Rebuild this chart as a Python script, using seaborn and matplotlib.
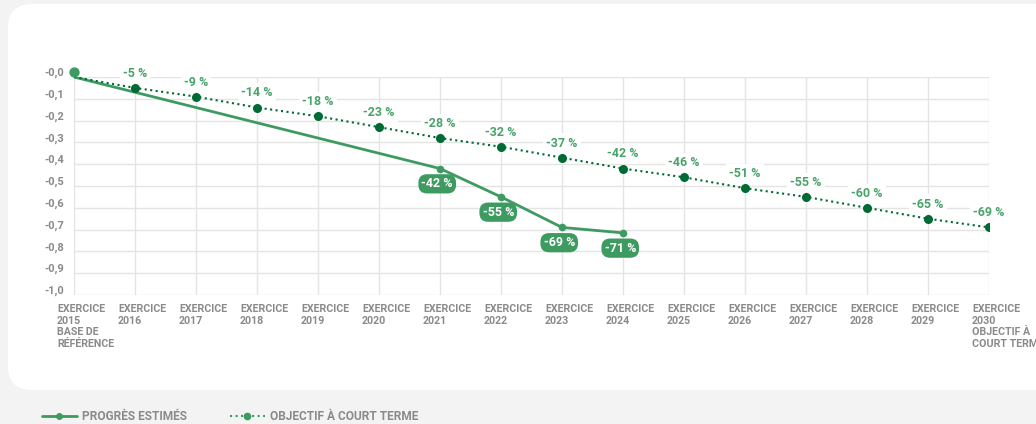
import numpy as np
import pandas as pd
import matplotlib
matplotlib.use("Agg")
import matplotlib.pyplot as plt
import matplotlib.transforms as mtransforms
from matplotlib.patches import FancyBboxPatch
from matplotlib.lines import Line2D
import seaborn as sns

# data
years = list(range(2015, 2031))
target_values = [0.0, -0.05, -0.09, -0.14, -0.18, -0.23, -0.28, -0.32, -0.37,
                 -0.42, -0.46, -0.51, -0.55, -0.60, -0.65, -0.69]
target_labels = ["-5 %", "-9 %", "-14 %", "-18 %", "-23 %", "-28 %", "-32 %", "-37 %",
                 "-42 %", "-46 %", "-51 %", "-55 %", "-60 %", "-65 %", "-69 %"]
progress_years = [2015, 2021, 2022, 2023, 2024]
progress_values = [0.0, -0.42, -0.55, -0.69, -0.715]
progress_labels = ["-42 %", "-55 %", "-69 %", "-71 %"]
y_ticks = [0.0, -0.1, -0.2, -0.3, -0.4, -0.5, -0.6, -0.7, -0.8, -0.9, -1.0]
y_tick_labels = ["-0,0", "-0,1", "-0,2", "-0,3", "-0,4", "-0,5", "-0,6", "-0,7",
                 "-0,8", "-0,9", "-1,0"]
x_tick_labels = ["EXERCICE\n2015\nBASE DE\nRÉFÉRENCE"] + \
    [f"EXERCICE\n{y}" for y in range(2016, 2030)] + \
    ["EXERCICE\n2030\nOBJECTIF À\nCOURT TERME"]

GREEN = "#3d9b62"
DARK = "#006a34"
LABEL_GREEN = "#4aa26b"
GREY = "#8a8a8a"
GRID = "#e4e4e4"

sns.set_style("white")
plt.rcParams['font.family'] = ['Roboto', 'DejaVu Sans']
plt.rcParams['font.weight'] = 'bold'

fig = plt.figure(figsize=(10.36, 4.24), dpi=100)
fig.patch.set_facecolor("#f3f3f3")
panel = FancyBboxPatch((0.08, 0.34), 10.8, 3.86,
                       boxstyle="round,pad=0,rounding_size=0.24",
                       transform=fig.dpi_scale_trans, fc="white", ec="none", zorder=-5)
fig.patches.append(panel)

ax = fig.add_axes([74 / 1036, 129 / 424, 915 / 1036, 218 / 424])
ax.set_facecolor("none")

target_df = pd.DataFrame({"year": years, "value": target_values})
progress_df = pd.DataFrame({"year": progress_years, "value": progress_values})

sns.lineplot(data=progress_df, x="year", y="value", ax=ax, color=GREEN, lw=2.0,
             marker="o", markersize=5.5, markeredgewidth=0, zorder=3,
             markevery=list(range(1, len(progress_years))))
sns.lineplot(data=target_df, x="year", y="value", ax=ax, color=DARK, lw=1.5,
             linestyle=":", marker="o", markersize=6.5, markeredgewidth=0, zorder=4,
             markevery=list(range(1, len(years))))

# start point marker sits a little above the line start
up5 = mtransforms.ScaledTranslation(0, 5 / 100, fig.dpi_scale_trans)
ax.scatter(progress_years[:1], progress_values[:1], s=55, color=GREEN, zorder=6,
           linewidths=0, transform=ax.transData + up5, clip_on=False)

for yr, v, lab in zip(years[1:], target_values[1:], target_labels):
    ax.annotate(lab, (yr, v), xytext=(0, 10.5), textcoords="offset points",
                ha="center", va="center", fontsize=9, fontweight="bold", color=LABEL_GREEN,
                bbox=dict(boxstyle="square,pad=0.25", fc="white", ec="none"), zorder=5)

for yr, v, lab in zip(progress_years[1:], progress_values[1:], progress_labels):
    ax.annotate(lab, (yr, v), xytext=(-2, -11), textcoords="offset points",
                ha="center", va="center", fontsize=9, fontweight="bold", color="white",
                bbox=dict(boxstyle="round,pad=0.25,rounding_size=0.7", fc=GREEN, ec="none"),
                zorder=6)

ax.set_xlim(2015, 2030)
ax.set_ylim(-1.0, 0.0)
ax.set_xticks(years)
ax.set_yticks(y_ticks)
ax.grid(True, color=GRID, lw=1.0)
ax.set_axisbelow(True)
ax.tick_params(length=0, labelleft=False, labelbottom=False)
for s in ax.spines.values():
    s.set_visible(False)
ax.set_xlabel("")
ax.set_ylabel("")

ylab_tr = mtransforms.blended_transform_factory(ax.transAxes, ax.transData) + \
    mtransforms.ScaledTranslation(-10 / 100, 4 / 100, fig.dpi_scale_trans)
for v, lab in zip(y_ticks, y_tick_labels):
    ax.text(0, v, lab, transform=ylab_tr, ha="right", va="center",
            fontsize=8, fontweight="bold", color=GREY)

xlab_tr = mtransforms.blended_transform_factory(ax.transData, ax.transAxes) + \
    mtransforms.ScaledTranslation(-17 / 100, -9 / 100, fig.dpi_scale_trans)
for yr, lab in zip(years, x_tick_labels):
    ax.text(yr, 0, lab, transform=xlab_tr, ha="left", va="top", fontsize=7.7,
            fontweight="bold", color=GREY, linespacing=1.2)

handles = [
    Line2D([], [], color=GREEN, lw=2.0, marker="o", markersize=5, markeredgewidth=0),
    Line2D([], [], color=GREEN, lw=1.5, linestyle=":", marker="o", markersize=5.5,
           markeredgewidth=0),
]
leg = fig.legend(handles, ["PROGRÈS ESTIMÉS", "OBJECTIF À COURT TERME"],
                 loc="center left", bbox_to_anchor=(42 / 1036, 7 / 424), ncol=2,
                 frameon=False, borderpad=0, borderaxespad=0, handlelength=2.9,
                 handletextpad=0.45, columnspacing=3.6,
                 prop=dict(size=8.6, weight="bold"))
for t in leg.get_texts():
    t.set_color(GREY)

fig.savefig("out.png", dpi=100, facecolor=fig.get_facecolor())
